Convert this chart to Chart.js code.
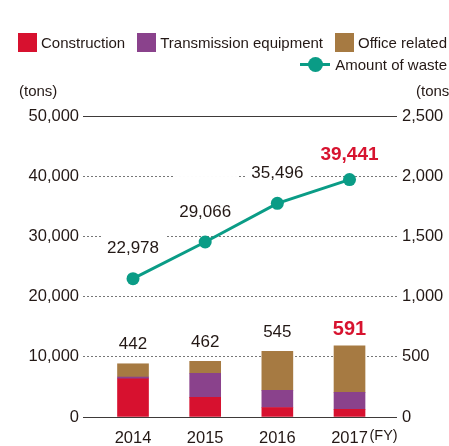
<!DOCTYPE html>
<html>
<head>
<meta charset="utf-8">
<script src="https://cdn.jsdelivr.net/npm/chart.js@4/dist/chart.umd.min.js"></script>
<style>
    html, body { margin: 0; padding: 0; background: #fff; }
    #wrap { position: relative; width: 449px; height: 446px; overflow: hidden; font-family: "Liberation Sans", Arial, sans-serif; color: #231815; }
    #chart { position: absolute; left: 0; top: 0; }
    .legend-row { position: absolute; right: 2px; display: flex; align-items: center; white-space: nowrap; font-size: 15px; }
    .legend-row .item { display: flex; align-items: center; margin-left: 12px; }
    .legend-row .box { width: 19px; height: 19px; margin-right: 4px; }
    .legend-row .mark { position: relative; width: 30px; height: 15px; margin-right: 5px; }
    .legend-row .mark i { position: absolute; left: 0; right: 0; top: 6px; height: 3px; }
    .legend-row .mark b { position: absolute; left: 8px; top: 0; width: 15px; height: 15px; border-radius: 50%; }
    .unit { position: absolute; top: 82px; font-size: 15px; }
</style>
</head>
<body>
<div id="wrap">
    <canvas id="chart" width="449" height="446"></canvas>
    <div class="legend-row" id="legendBars" style="top:33px"></div>
    <div class="legend-row" id="legendLine" style="top:56px"></div>
    <div class="unit" style="left:19px">(tons)</div>
    <div class="unit" style="left:416px">(tons)</div>
</div>
<script>
(function () {
    'use strict';

    // ── Data ──────────────────────────────────────────────────────────────────
    var years        = ['2014', '2015', '2016', '2017'];
    var construction = [318, 163, 79, 63];
    var transmission = [14, 200, 142, 141];
    var office       = [110, 99, 324, 387];
    var barTotals    = [442, 462, 545, 591];
    var wasteAmount  = [22978, 29066, 35496, 39441];
    var leftTicks    = [0, 10000, 20000, 30000, 40000, 50000];
    var rightTicks   = [0, 500, 1000, 1500, 2000, 2500];

    var FONT = '"Liberation Sans", Arial, sans-serif';
    var TEXT = '#231815';
    var RED  = '#d7132f';

    function xy(arr) {
        return arr.map(function (v, i) { return { x: i, y: v }; });
    }
    function fmt(v) { return v.toLocaleString('en-US'); }

    // ── Legend (HTML) ─────────────────────────────────────────────────────────
    var barSeries = [
        { label: 'Construction', color: '#d7112f', data: construction },
        { label: 'Transmission equipment', color: '#8a428c', data: transmission },
        { label: 'Office related', color: '#a67a42', data: office }
    ];
    var LINE = '#0a9c86';

    document.getElementById('legendBars').innerHTML = barSeries.map(function (s) {
        return '<span class="item"><span class="box" style="background:' + s.color + '"></span>' + s.label + '</span>';
    }).join('');
    document.getElementById('legendLine').innerHTML =
        '<span class="item"><span class="mark"><i style="background:' + LINE + '"></i><b style="background:' + LINE + '"></b></span>Amount of waste</span>';

    // ── Value labels ──────────────────────────────────────────────────────────
    var labelPlugin = {
        id: 'valueLabels',
        afterDatasetsDraw: function (chart) {
            var ctx = chart.ctx;
            var line = chart.getDatasetMeta(0).data;
            var topBars = chart.getDatasetMeta(3).data;
            ctx.save();
            ctx.textAlign = 'center';
            ctx.textBaseline = 'middle';

            line.forEach(function (pt, i) {
                var last = i === line.length - 1;
                ctx.font = (last ? 'bold 19px ' : '17px ') + FONT;
                var txt = fmt(wasteAmount[i]);
                var y = pt.y - (last ? 25 : 30);
                var w = ctx.measureText(txt).width + 12;
                if (!last) {
                    ctx.fillStyle = '#fff';
                    ctx.fillRect(pt.x - w / 2, y - 36, w, 46);
                }
                ctx.fillStyle = last ? RED : TEXT;
                ctx.fillText(txt, pt.x, y);
            });

            topBars.forEach(function (bar, i) {
                var last = i === topBars.length - 1;
                ctx.font = (last ? 'bold 20px ' : '17px ') + FONT;
                ctx.fillStyle = last ? RED : TEXT;
                ctx.fillText(fmt(barTotals[i]), bar.x, bar.y - (last ? 16 : 19));
            });

            // (FY) after last year label
            var xs = chart.scales.x;
            ctx.font = '14.5px ' + FONT;
            ctx.fillStyle = TEXT;
            ctx.textAlign = 'left';
            ctx.fillText('(FY)', xs.getPixelForValue(years.length - 1) + 20, 436);
            ctx.restore();
        }
    };

    // ── Chart ─────────────────────────────────────────────────────────────────
    var datasets = [{
        type: 'line',
        label: 'Amount of waste',
        data: xy(wasteAmount),
        yAxisID: 'y',
        borderColor: LINE,
        backgroundColor: LINE,
        borderWidth: 3,
        pointRadius: 6.5,
        pointBorderWidth: 0,
        pointBackgroundColor: LINE
    }].concat(barSeries.map(function (s) {
        return {
            type: 'bar',
            label: s.label,
            data: xy(s.data),
            yAxisID: 'y1',
            stack: 'waste',
            backgroundColor: s.color,
            barThickness: 31
        };
    }));

    Chart.defaults.font.family = FONT;
    Chart.defaults.color = TEXT;

    new Chart(document.getElementById('chart').getContext('2d'), {
        data: { datasets: datasets },
        options: {
            responsive: false,
            animation: false,
            layout: { padding: { top: 116, left: 0, right: 0, bottom: 0 } },
            plugins: { legend: { display: false }, tooltip: { enabled: false } },
            scales: {
                x: {
                    type: 'linear',
                    min: -0.693,
                    max: 3.658,
                    offset: false,
                    stacked: true,
                    grid: { display: false, offset: false },
                    border: { display: false },
                    afterBuildTicks: function (s) {
                        s.ticks = years.map(function (_, i) { return { value: i }; });
                    },
                    afterFit: function (s) { s.height = 29; },
                    ticks: {
                        padding: 4,
                        font: { size: 16.5 },
                        color: TEXT,
                        callback: function (v) { return years[v]; }
                    }
                },
                y: {
                    position: 'left',
                    min: 0,
                    max: 50000,
                    afterBuildTicks: function (s) {
                        s.ticks = leftTicks.map(function (v) { return { value: v }; });
                    },
                    afterFit: function (s) { s.width = 83; },
                    border: {
                        display: false,
                        dash: function (c) {
                            var v = c.tick && c.tick.value;
                            return (v === 0 || v === 50000) ? [] : [2, 2];
                        }
                    },
                    grid: {
                        drawTicks: false,
                        lineWidth: 1,
                        color: function (c) {
                            var v = c.tick && c.tick.value;
                            return (v === 0 || v === 50000) ? '#3e3a39' : '#777';
                        }
                    },
                    ticks: { padding: 4, font: { size: 16.5 }, color: TEXT }
                },
                y1: {
                    position: 'right',
                    min: 0,
                    max: 2500,
                    stacked: true,
                    afterBuildTicks: function (s) {
                        s.ticks = rightTicks.map(function (v) { return { value: v }; });
                    },
                    afterFit: function (s) { s.width = 52; },
                    border: { display: false },
                    grid: { drawOnChartArea: false, drawTicks: false },
                    ticks: { padding: 5, font: { size: 16.5 }, color: TEXT }
                }
            }
        },
        plugins: [labelPlugin]
    });
})();
</script>
</body>
</html>
